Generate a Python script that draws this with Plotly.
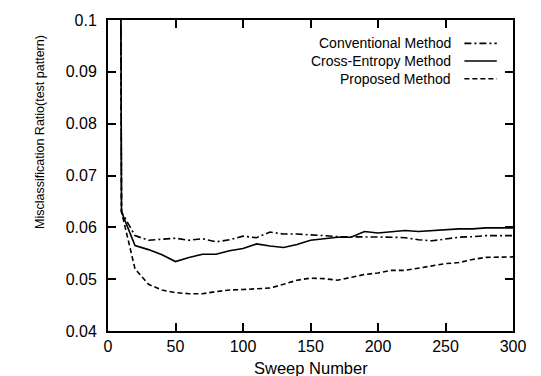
import plotly.graph_objects as go

# Sweep numbers (sampled every 10 sweeps)
sweeps = [0, 10, 20, 30, 40, 50, 60, 70, 80, 90, 100, 110, 120, 130, 140, 150,
          160, 170, 180, 190, 200, 210, 220, 230, 240, 250, 260, 270, 280, 290, 300]

# Misclassification ratio on the test pattern
conventional = [0.90, 0.0630, 0.0584, 0.0575, 0.0577, 0.0579, 0.0575, 0.0578, 0.0572,
                0.0576, 0.0583, 0.0580, 0.0591, 0.0587, 0.0587, 0.0586, 0.0584,
                0.0582, 0.0582, 0.0582, 0.0582, 0.0581, 0.0580, 0.0576, 0.0574,
                0.0578, 0.0581, 0.0582, 0.0584, 0.0584, 0.0584]
cross_entropy = [0.90, 0.0630, 0.0565, 0.0557, 0.0547, 0.0534, 0.0542, 0.0548, 0.0548,
                 0.0555, 0.0559, 0.0568, 0.0564, 0.0561, 0.0567, 0.0575, 0.0578,
                 0.0581, 0.0581, 0.0592, 0.0589, 0.0592, 0.0594, 0.0592, 0.0594,
                 0.0595, 0.0597, 0.0597, 0.0599, 0.0599, 0.0599]
proposed = [0.90, 0.0630, 0.0520, 0.0490, 0.0479, 0.0474, 0.0472, 0.0472, 0.0476,
            0.0479, 0.0480, 0.0481, 0.0483, 0.0490, 0.0498, 0.0502, 0.0501,
            0.0498, 0.0504, 0.0509, 0.0512, 0.0517, 0.0517, 0.0521, 0.0526,
            0.0530, 0.0532, 0.0538, 0.0542, 0.0543, 0.0543]

series_names = ["Conventional Method", "Cross-Entropy Method", "Proposed Method"]
series_values = [conventional, cross_entropy, proposed]
series_dash = ["7px,3px,2px,3px", "solid", "5px,3px"]

FONT = "Liberation Sans, Arial, sans-serif"

fig = go.Figure()
for name, vals, dash in zip(series_names, series_values, series_dash):
    fig.add_trace(go.Scatter(
        x=sweeps, y=vals, mode="lines", name=name,
        line=dict(color="black", width=1.6, dash=dash),
        showlegend=False,
    ))

# Legend: right-aligned labels followed by line samples
for i, (name, dash) in enumerate(zip(series_names, series_dash)):
    yp = 0.925 - i * 0.057
    fig.add_annotation(x=0.853, y=yp, xref="paper", yref="paper",
                       text=name, showarrow=False, xanchor="right", yanchor="middle",
                       font=dict(family=FONT, size=14, color="black"))
    fig.add_shape(type="line", xref="paper", yref="paper",
                  x0=0.88, x1=0.96, y0=yp, y1=yp,
                  line=dict(color="black", width=1.6, dash=dash))

# Axis titles
fig.add_annotation(x=0.5, y=-0.118, xref="paper", yref="paper",
                   text="Sweep Number", showarrow=False,
                   xanchor="center", yanchor="middle",
                   font=dict(family=FONT, size=16.5, color="black"))
fig.add_annotation(x=-0.168, y=0.64, xref="paper", yref="paper",
                   text="Misclassification Ratio(test pattern)", showarrow=False,
                   textangle=-90, xanchor="center", yanchor="middle",
                   font=dict(family=FONT, size=12.5, color="black"))

axis_common = dict(
    showline=True, linecolor="black", linewidth=2, mirror="allticks",
    ticks="inside", ticklen=8, tickwidth=1.5, tickcolor="black",
    showgrid=False, zeroline=False,
    tickfont=dict(family=FONT, size=16, color="black"),
)

fig.update_xaxes(range=[0, 300], tick0=0, dtick=50, ticklabelstandoff=0,
                 **axis_common)
fig.update_yaxes(range=[0.04, 0.1], tick0=0.04, dtick=0.01,
                 ticklabelstandoff=6, **axis_common)

fig.update_layout(
    width=541, height=376,
    margin=dict(l=108, r=28, t=12, b=45),
    paper_bgcolor="white", plot_bgcolor="white",
    font=dict(family=FONT, color="black"),
)

fig.write_html("out.html")
